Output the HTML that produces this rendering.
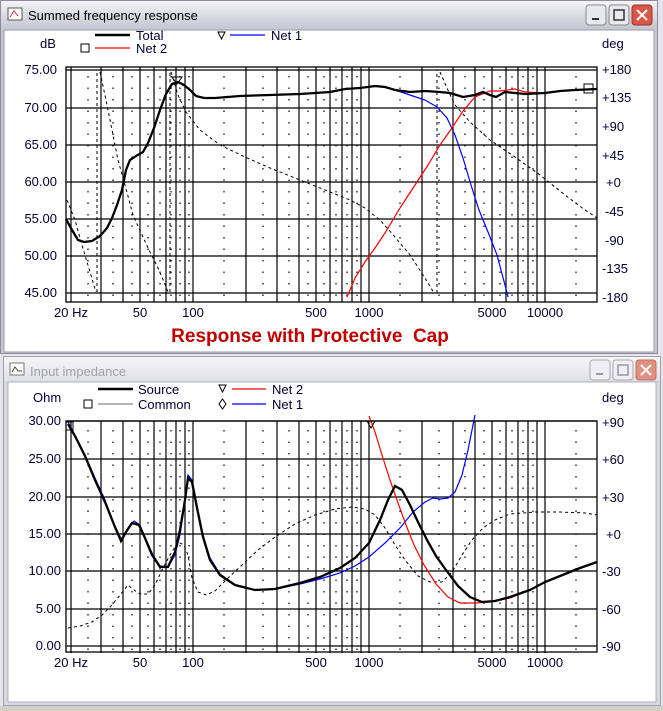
<!DOCTYPE html>
<html><head><meta charset="utf-8"><style>
body{margin:0;background:#d4d0c8;width:663px;height:706px;overflow:hidden;font-family:"Liberation Sans",sans-serif}
svg text{font-family:"Liberation Sans",sans-serif}
</style></head><body>
<svg width="663" height="706" viewBox="0 0 663 706" xmlns="http://www.w3.org/2000/svg">
<defs>
<linearGradient id="tb" x1="0" y1="0" x2="0" y2="1"><stop offset="0" stop-color="#f4f4f8"/><stop offset="0.5" stop-color="#dcdce6"/><stop offset="1" stop-color="#c8c8d4"/></linearGradient>
<linearGradient id="tb2" x1="0" y1="0" x2="0" y2="1"><stop offset="0" stop-color="#f6f6f8"/><stop offset="1" stop-color="#e0e0e8"/></linearGradient>
</defs>
<rect x="0" y="0" width="663" height="706" fill="#e4e4ea"/>
<!-- top window -->
<rect x="0.5" y="0.5" width="657" height="353" fill="#c8c8d4" stroke="#8c8ca0"/>
<rect x="1" y="1" width="656" height="27" fill="url(#tb)"/>
<rect x="4" y="30" width="650" height="322" fill="#fff" stroke="#9a9aaa"/>
<rect x="8" y="8" width="14" height="12" fill="#fff" stroke="#555"/><path d="M10 17 L14 11 L18 16" stroke="#c33" fill="none"/>
<text x="28" y="20" font-size="13" fill="#000">Summed frequency response</text>
<g>
<rect x="586" y="5" width="20" height="20" rx="3" fill="#e8e8f0" stroke="#888"/><rect x="592" y="18" width="7" height="2" fill="#333"/>
<rect x="609" y="5" width="20" height="20" rx="3" fill="#e8e8f0" stroke="#888"/><rect x="614" y="10" width="10" height="10" fill="none" stroke="#333" stroke-width="1.5"/>
<rect x="632" y="5" width="20" height="20" rx="3" fill="#d85848" stroke="#a03020"/><path d="M637 10 L647 20 M647 10 L637 20" stroke="#fff" stroke-width="2"/>
</g>
<!-- bottom window -->
<rect x="3.5" y="356.5" width="657" height="349" fill="#d8d8e2" stroke="#a0a0b0"/>
<rect x="4" y="357" width="656" height="24" fill="url(#tb2)"/>
<rect x="8" y="382" width="648" height="320" fill="#fff" stroke="#b0b0c0"/>
<rect x="10" y="363" width="14" height="12" fill="#fff" stroke="#777"/><path d="M12 372 L15 367 L18 371 L22 371" stroke="#444" fill="none"/>
<text x="30" y="376" font-size="13" fill="#a0a0b0">Input impedance</text>
<g>
<rect x="590" y="360" width="20" height="20" rx="3" fill="#eeeef4" stroke="#aaa"/><rect x="596" y="373" width="7" height="2" fill="#999"/>
<rect x="613" y="360" width="20" height="20" rx="3" fill="#eeeef4" stroke="#aaa"/><rect x="618" y="365" width="10" height="10" fill="none" stroke="#999" stroke-width="1.5"/>
<rect x="636" y="360" width="20" height="20" rx="3" fill="#e09080" stroke="#c07060"/><path d="M641 365 L651 375 M651 365 L641 375" stroke="#fff" stroke-width="2"/>
</g>

<g id="top">
<g stroke="#000" stroke-width="1.3">
<line x1="66" y1="70" x2="597" y2="70"/><line x1="66" y1="108" x2="597" y2="108"/><line x1="66" y1="145" x2="597" y2="145"/><line x1="66" y1="182" x2="597" y2="182"/><line x1="66" y1="219" x2="597" y2="219"/><line x1="66" y1="256" x2="597" y2="256"/><line x1="66" y1="293" x2="597" y2="293"/>
</g>
<g stroke="#000" stroke-width="1.2" id="vg1">
<line x1="71" y1="67" x2="71" y2="302"/><line x1="101" y1="67" x2="101" y2="302"/><line x1="123" y1="67" x2="123" y2="302"/><line x1="140" y1="67" x2="140" y2="302"/><line x1="154" y1="67" x2="154" y2="302"/><line x1="166" y1="67" x2="166" y2="302"/><line x1="176" y1="67" x2="176" y2="302"/><line x1="185" y1="67" x2="185" y2="302"/><line x1="193" y1="67" x2="193" y2="302"/>
<line x1="246" y1="67" x2="246" y2="302"/><line x1="277" y1="67" x2="277" y2="302"/><line x1="299" y1="67" x2="299" y2="302"/><line x1="316" y1="67" x2="316" y2="302"/><line x1="330" y1="67" x2="330" y2="302"/><line x1="342" y1="67" x2="342" y2="302"/><line x1="352" y1="67" x2="352" y2="302"/><line x1="361" y1="67" x2="361" y2="302"/><line x1="369" y1="67" x2="369" y2="302"/>
<line x1="422" y1="67" x2="422" y2="302"/><line x1="453" y1="67" x2="453" y2="302"/><line x1="475" y1="67" x2="475" y2="302"/><line x1="492" y1="67" x2="492" y2="302"/><line x1="506" y1="67" x2="506" y2="302"/><line x1="518" y1="67" x2="518" y2="302"/><line x1="528" y1="67" x2="528" y2="302"/><line x1="537" y1="67" x2="537" y2="302"/><line x1="545" y1="67" x2="545" y2="302"/>
</g>
<g stroke="#000" stroke-width="1.2" stroke-dasharray="1.5 10" id="vd1">
<line x1="88" y1="76" x2="88" y2="300"/><line x1="113" y1="76" x2="113" y2="300"/><line x1="132" y1="76" x2="132" y2="300"/><line x1="148" y1="76" x2="148" y2="300"/><line x1="160" y1="76" x2="160" y2="300"/><line x1="171" y1="76" x2="171" y2="300"/><line x1="180" y1="76" x2="180" y2="300"/><line x1="189" y1="76" x2="189" y2="300"/>
<line x1="224" y1="76" x2="224" y2="300"/><line x1="263" y1="76" x2="263" y2="300"/><line x1="289" y1="76" x2="289" y2="300"/><line x1="308" y1="76" x2="308" y2="300"/><line x1="324" y1="76" x2="324" y2="300"/><line x1="336" y1="76" x2="336" y2="300"/><line x1="347" y1="76" x2="347" y2="300"/><line x1="357" y1="76" x2="357" y2="300"/>
<line x1="400" y1="76" x2="400" y2="300"/><line x1="439" y1="76" x2="439" y2="300"/><line x1="465" y1="76" x2="465" y2="300"/><line x1="484" y1="76" x2="484" y2="300"/><line x1="500" y1="76" x2="500" y2="300"/><line x1="512" y1="76" x2="512" y2="300"/><line x1="523" y1="76" x2="523" y2="300"/><line x1="533" y1="76" x2="533" y2="300"/><line x1="576" y1="76" x2="576" y2="300"/>
</g>
<rect x="66" y="67" width="531" height="235" fill="none" stroke="#000" stroke-width="1.3"/>
<g fill="none" stroke="#000" stroke-width="1" stroke-dasharray="3 3">
<polyline points="67,200 75,220 82,245 90,272 96,292"/>
<line x1="97" y1="292" x2="97" y2="70"/>
<polyline points="100,72 106,100 112,130 118,160 125,185 133,215 142,235 150,252 158,268 164,282 168,292"/>
<line x1="170" y1="292" x2="170" y2="70"/>
<polyline points="171,72 178,95 186,112 200,130 220,145 245,157 270,168 300,180 330,192 350,200 365,208 380,220 395,237 410,255 425,278 434,293"/>
<line x1="437" y1="293" x2="437" y2="70"/>
<polyline points="440,72 447,88 455,105 470,122 490,140 515,157 540,175 565,195 585,210 597,218"/>
</g>
<polyline fill="none" stroke="#0000ff" stroke-width="1.2" points="330,92 345,89 360,88 380,86 395,90 410,95 425,100 437,107 447,118 455,135 463,158 471,185 479,210 488,232 497,255 505,285 508,297"/>
<polyline fill="none" stroke="#ff0000" stroke-width="1.2" points="347,297 355,278 365,262 375,248 385,233 400,208 415,185 428,165 440,145 452,128 463,111 475,97 490,91 500,91 515,89 525,92 540,93 555,92 570,90 597,89"/>
<polyline fill="none" stroke="#000" stroke-width="2.3" points="66,219 72,230 78,240 84,242 92,241 100,236 107,228 112,218 117,205 122,190 126,170 130,160 136,156 143,152 148,143 154,128 160,110 166,94 172,84 178,82 184,85 190,90 196,96 204,98 215,98 240,96 270,95 300,94 330,92 345,89 360,88 375,86 385,87 395,90 410,92 425,91 440,92 450,93 463,97 475,95 483,92 490,95 496,97 505,92 515,93 525,94 545,93 560,91 575,90 597,89"/>
<path d="M172 77 L182 77 L177 84 Z" fill="none" stroke="#000"/>
<rect x="584" y="84" width="9" height="9" fill="none" stroke="#000"/>
<g font-size="13" fill="#000030" text-anchor="end">
<text x="57" y="74">75.00</text><text x="57" y="112">70.00</text><text x="57" y="149">65.00</text><text x="57" y="186">60.00</text><text x="57" y="223">55.00</text><text x="57" y="260">50.00</text><text x="57" y="297">45.00</text>
</g>
<g font-size="13" fill="#000030">
<text x="602" y="74">+180</text><text x="602" y="102">+135</text><text x="602" y="131">+90</text><text x="602" y="160">+45</text><text x="606" y="187">+0</text><text x="605" y="216">-45</text><text x="605" y="245">-90</text><text x="602" y="273">-135</text><text x="602" y="302">-180</text>
<text x="40" y="48">dB</text><text x="602" y="48">deg</text>
</g>
<g font-size="13" fill="#000030" text-anchor="middle">
<text x="71" y="317">20 Hz</text><text x="140" y="317">50</text><text x="193" y="317">100</text><text x="316" y="317">500</text><text x="369" y="317">1000</text><text x="492" y="317">5000</text><text x="545" y="317">10000</text>
</g>
<text x="310" y="342" font-size="19" font-weight="bold" fill="#c00000" text-anchor="middle">Response with Protective&#160; Cap</text>
<line x1="95" y1="35" x2="130" y2="35" stroke="#000" stroke-width="2.5"/><text x="136" y="40" font-size="13" fill="#000030">Total</text>
<path d="M218 32 L225 32 L221.5 39 Z" fill="none" stroke="#000"/><line x1="230" y1="35" x2="265" y2="35" stroke="#0000ff" stroke-width="1.2"/><text x="271" y="40" font-size="13" fill="#000030">Net 1</text>
<rect x="81" y="44" width="8" height="8" fill="none" stroke="#000"/><line x1="95" y1="48" x2="130" y2="48" stroke="#ff0000" stroke-width="1.2"/><text x="136" y="53" font-size="13" fill="#000030">Net 2</text>
</g>

<g id="bot">
<g stroke="#000" stroke-width="1.3">
<line x1="66" y1="421" x2="597" y2="421"/><line x1="66" y1="459" x2="597" y2="459"/><line x1="66" y1="497" x2="597" y2="497"/><line x1="66" y1="534" x2="597" y2="534"/><line x1="66" y1="571" x2="597" y2="571"/><line x1="66" y1="609" x2="597" y2="609"/><line x1="66" y1="646" x2="597" y2="646"/>
</g>
<g transform="translate(0,354)"><use href="#vg1"/></g>
<g transform="translate(0,354)"><use href="#vd1"/></g>
<rect x="66" y="421" width="531" height="231" fill="none" stroke="#000" stroke-width="1.3"/>
<rect x="60" y="653" width="540" height="6" fill="#fff"/>
<polyline fill="none" stroke="#000" stroke-width="1" stroke-dasharray="3 3" points="68,628 80,626 92,622 102,615 112,605 120,595 128,585 134,590 140,594 148,594 155,585 162,570 170,555 178,542 184,545 188,555 192,578 198,592 206,595 215,591 228,578 242,565 258,550 275,537 295,524 315,515 335,509 352,507 365,509 375,515 385,528 395,545 405,560 418,576 430,582 442,582 452,572 462,555 472,540 483,528 495,520 510,514 535,512 560,512 585,513 597,515"/>
<polyline fill="none" stroke="#0000ff" stroke-width="1.2" points="68,422 75,435 85,455 95,478 105,500 115,527 122,540 128,528 134,521 140,525 146,540 153,555 160,566 168,567 175,555 180,535 185,502 188,475 192,480 197,505 203,535 210,558 220,574 235,585 255,590 275,589 300,584 320,579 340,573 355,566 369,557 385,543 400,528 413,512 425,502 433,498 440,499 448,498 455,492 462,475 468,450 472,430 475,415"/>
<polyline fill="none" stroke="#ff0000" stroke-width="1.2" points="369,416 375,432 382,455 390,480 398,503 406,525 414,545 424,565 436,584 448,597 460,603 475,603 490,602 510,598 530,590 545,582 565,574 580,568 597,562"/>
<polyline fill="none" stroke="#000" stroke-width="2.3" points="68,424 75,436 85,456 95,480 105,502 115,527 121,541 126,532 132,523 139,525 145,538 152,555 160,567 168,567 175,552 180,530 185,500 188,478 192,482 197,508 203,537 210,560 220,575 235,585 255,590 275,589 300,583 320,577 340,568 355,558 369,543 380,520 388,500 395,486 402,490 410,505 418,522 427,540 436,556 446,570 458,586 470,597 482,602 495,601 510,597 530,590 545,582 565,574 580,568 597,562"/>
<path d="M367 421 L375 421 L371 428 Z" fill="none" stroke="#000"/>
<rect x="66" y="422" width="7" height="8" fill="none" stroke="#000"/>
<g font-size="13" fill="#000030" text-anchor="end">
<text x="61" y="425">30.00</text><text x="61" y="463">25.00</text><text x="61" y="501">20.00</text><text x="61" y="538">15.00</text><text x="61" y="575">10.00</text><text x="61" y="613">5.00</text><text x="61" y="650">0.00</text>
</g>
<g font-size="13" fill="#000030">
<text x="602" y="427">+90</text><text x="602" y="464">+60</text><text x="602" y="502">+30</text><text x="606" y="539">+0</text><text x="602" y="576">-30</text><text x="602" y="614">-60</text><text x="602" y="651">-90</text>
<text x="33" y="402">Ohm</text><text x="602" y="402">deg</text>
</g>
<g font-size="13" fill="#000030" text-anchor="middle">
<text x="71" y="667">20 Hz</text><text x="140" y="667">50</text><text x="193" y="667">100</text><text x="316" y="667">500</text><text x="369" y="667">1000</text><text x="492" y="667">5000</text><text x="545" y="667">10000</text>
</g>
<line x1="98" y1="389" x2="133" y2="389" stroke="#000" stroke-width="2.5"/><text x="138" y="394" font-size="13" fill="#000030">Source</text>
<rect x="84" y="400" width="8" height="8" fill="none" stroke="#000"/><line x1="98" y1="404" x2="133" y2="404" stroke="#888" stroke-width="1.2"/><text x="138" y="409" font-size="13" fill="#000030">Common</text>
<path d="M219 385 L226 385 L222.5 392 Z" fill="none" stroke="#000"/><line x1="232" y1="389" x2="266" y2="389" stroke="#ff0000" stroke-width="1.2"/><text x="272" y="394" font-size="13" fill="#000030">Net 2</text>
<path d="M222.5 399 L226 404 L222.5 409 L219 404 Z" fill="none" stroke="#000"/><line x1="232" y1="404" x2="266" y2="404" stroke="#0000ff" stroke-width="1.2"/><text x="272" y="409" font-size="13" fill="#000030">Net 1</text>
</g>
</svg>
</body></html>
